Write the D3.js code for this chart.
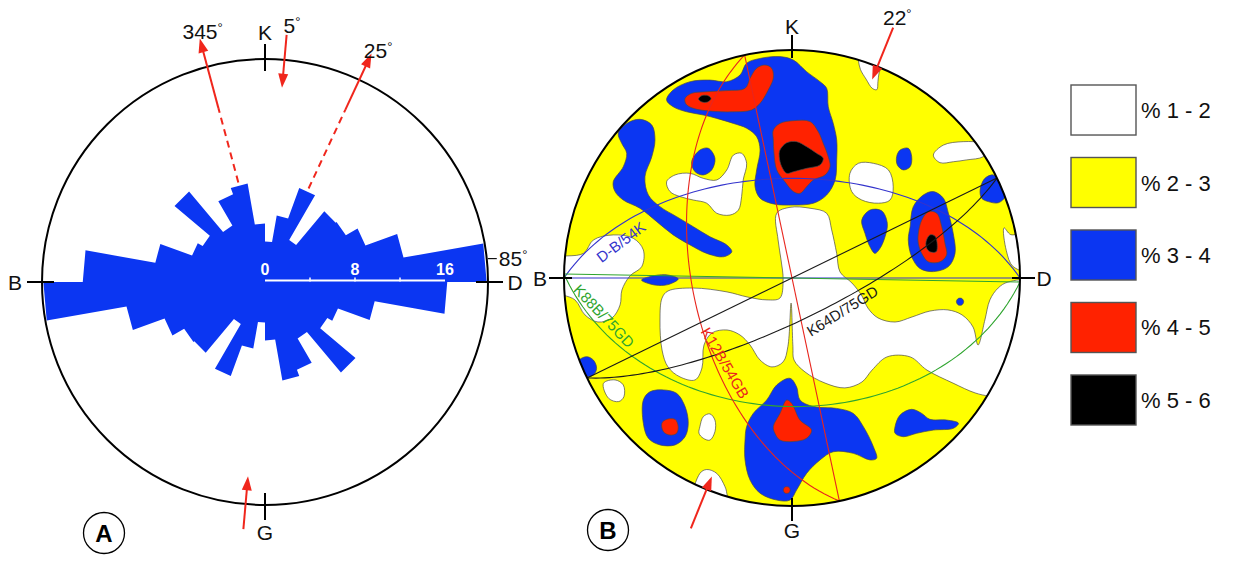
<!DOCTYPE html>
<html>
<head>
<meta charset="utf-8">
<script src="https://cdn.jsdelivr.net/npm/d3@7"></script>
<style>
  body { margin: 0; background: #fff; }
  svg { display: block; }
  text { font-family: "Liberation Sans", Arial, Helvetica, sans-serif; }
</style>
</head>
<body>
<svg id="fig" width="1238" height="561"></svg>
<script>
// ---------- Rose diagram (A): joint strike frequencies, 10° bins, bidirectional ----------
const roseBinStart = [0, 10, 20, 30, 40, 50, 60, 70, 80, 90, 100, 110, 120, 130, 140, 150, 160, 170];
const roseCounts   = [3.6, 6.0, 8.9, 4.3, 8.2, 8.3, 9.5, 12.5, 19.7, 16.2, 9.9, 6.9, 6.4, 10.5, 5.8, 8.3, 8.9, 5.2];
const roseScaleTicks  = [4, 8, 12];
const roseScaleLabels = [0, 8, 16];
const roseOutwardAz = [345, 25];     // principal directions drawn from petal tips
const roseInwardAz  = [5, 185];      // compression arrows
const roseAngleLabels = [345, 5, 25];
const roseMaxLabel = 85;
const compassNames = ["K", "D", "G", "B"];
const compassAz    = [0, 90, 180, 270];

// ---------- Stereonet (B): pole density contours, Schmidt net, radius = 1 ----------
const netArrowAz = [22, 202];
const netAngleLabel = 22;

const densityClasses = ["% 1 - 2", "% 2 - 3", "% 3 - 4", "% 4 - 5", "% 5 - 6"];

// 1-2 % zones
const zones12 = [
  [[0.28,1.03],[0.291,0.955],[0.30,0.915],[0.325,0.872],[0.352,0.832],[0.372,0.826],[0.377,0.862],[0.382,0.90],[0.395,0.935],[0.41,1.0]],
  [[-0.55,0.422],[-0.513,0.452],[-0.447,0.459],[-0.389,0.437],[-0.33,0.43],[-0.286,0.474],[-0.257,0.539],[-0.221,0.547],[-0.199,0.503],[-0.214,0.43],[-0.221,0.357],[-0.235,0.298],[-0.272,0.276],[-0.33,0.284],[-0.374,0.328],[-0.433,0.342],[-0.491,0.357],[-0.535,0.379]],
  [[0.254,0.459],[0.291,0.503],[0.357,0.503],[0.423,0.474],[0.444,0.4],[0.43,0.342],[0.379,0.328],[0.306,0.342],[0.262,0.379]],
  [[0.62,0.539],[0.664,0.583],[0.751,0.598],[0.839,0.591],[0.868,0.569],[0.839,0.532],[0.766,0.518],[0.708,0.51],[0.649,0.506]],
  [[0.93,0.22],[0.96,0.19],[1.05,0.2],[1.05,0.03],[0.97,0.05],[0.94,0.12]],
  [[-0.915,0.108],[-0.871,0.167],[-0.784,0.189],[-0.696,0.174],[-0.652,0.123],[-0.659,0.05],[-0.711,0.009],[-0.746,-0.053],[-0.754,-0.118],[-0.789,-0.175],[-0.851,-0.193],[-0.908,-0.162],[-0.952,-0.096],[-1.05,-0.05],[-1.05,0.08]],
  [[-0.067,0.284],[-0.009,0.31],[0.079,0.306],[0.152,0.284],[0.174,0.211],[0.196,0.108],[0.211,0.026],[0.263,-0.022],[0.307,-0.079],[0.333,-0.132],[0.377,-0.175],[0.452,-0.193],[0.526,-0.171],[0.605,-0.145],[0.684,-0.14],[0.746,-0.162],[0.794,-0.215],[0.816,-0.294],[0.846,-0.184],[0.868,-0.096],[0.904,-0.044],[0.947,-0.018],[1.05,-0.02],[1.05,-0.52],[0.868,-0.518],[0.803,-0.504],[0.706,-0.461],[0.592,-0.404],[0.518,-0.346],[0.417,-0.346],[0.351,-0.404],[0.307,-0.456],[0.232,-0.482],[0.145,-0.461],[0.057,-0.412],[0.009,-0.36],[0.004,-0.3],[-0.004,-0.11],[-0.018,-0.3],[-0.039,-0.368],[-0.088,-0.39],[-0.14,-0.36],[-0.184,-0.294],[-0.228,-0.25],[-0.285,-0.228],[-0.351,-0.241],[-0.386,-0.294],[-0.395,-0.395],[-0.425,-0.447],[-0.491,-0.434],[-0.544,-0.39],[-0.57,-0.316],[-0.579,-0.184],[-0.57,-0.088],[-0.544,-0.057],[-0.434,-0.044],[-0.285,-0.061],[-0.197,-0.083],[-0.11,-0.096],[-0.053,-0.088],[-0.039,-0.009],[-0.048,0.079],[-0.061,0.167]],
  [[-0.404,-0.652],[-0.389,-0.608],[-0.36,-0.596],[-0.338,-0.623],[-0.338,-0.674],[-0.36,-0.711],[-0.389,-0.703],[-0.408,-0.681]],
  [[-0.827,-0.462],[-0.776,-0.447],[-0.74,-0.469],[-0.737,-0.52],[-0.76,-0.542],[-0.804,-0.528]],
  [[-0.43,-0.98],[-0.404,-0.857],[-0.374,-0.84],[-0.33,-0.857],[-0.294,-0.915],[-0.286,-0.944],[-0.28,-1.03]]
];
// 3-4 % zones
const zones34 = [
  [[-0.55,0.781],[-0.521,0.825],[-0.447,0.861],[-0.36,0.868],[-0.286,0.861],[-0.228,0.89],[-0.199,0.942],[-0.14,0.963],[-0.053,0.971],[0.006,0.956],[0.064,0.905],[0.123,0.861],[0.152,0.832],[0.159,0.751],[0.181,0.678],[0.196,0.605],[0.196,0.518],[0.189,0.43],[0.152,0.364],[0.094,0.328],[0.006,0.32],[-0.082,0.325],[-0.14,0.35],[-0.162,0.4],[-0.155,0.474],[-0.14,0.561],[-0.155,0.62],[-0.199,0.657],[-0.257,0.678],[-0.33,0.7],[-0.389,0.715],[-0.462,0.729],[-0.521,0.751]],
  [[-0.762,0.635],[-0.725,0.678],[-0.667,0.696],[-0.615,0.671],[-0.601,0.605],[-0.615,0.532],[-0.645,0.444],[-0.63,0.364],[-0.579,0.313],[-0.506,0.269],[-0.433,0.225],[-0.36,0.181],[-0.286,0.145],[-0.264,0.115],[-0.301,0.093],[-0.374,0.108],[-0.447,0.145],[-0.521,0.189],[-0.593,0.247],[-0.667,0.306],[-0.74,0.342],[-0.776,0.379],[-0.784,0.422],[-0.74,0.488],[-0.725,0.547],[-0.747,0.591]],
  [[-0.44,0.51],[-0.404,0.561],[-0.367,0.569],[-0.338,0.525],[-0.352,0.474],[-0.389,0.452],[-0.425,0.466]],
  [[0.459,0.532],[0.474,0.561],[0.51,0.569],[0.525,0.532],[0.518,0.488],[0.488,0.474],[0.462,0.496]],
  [[0.518,0.225],[0.532,0.313],[0.576,0.364],[0.62,0.379],[0.664,0.35],[0.686,0.284],[0.707,0.196],[0.715,0.108],[0.686,0.05],[0.62,0.028],[0.561,0.042],[0.525,0.093],[0.51,0.167]],
  [[0.306,0.254],[0.342,0.298],[0.393,0.295],[0.418,0.24],[0.408,0.181],[0.386,0.13],[0.364,0.108],[0.342,0.137],[0.32,0.196]],
  [[0.825,0.386],[0.846,0.437],[0.883,0.452],[0.912,0.422],[0.934,0.357],[0.905,0.33],[0.861,0.335],[0.832,0.35]],
  [[-0.66,-0.009],[-0.601,0.011],[-0.544,0.013],[-0.499,-0.004],[-0.544,-0.029],[-0.601,-0.031]],
  [[-0.652,-0.535],[-0.623,-0.499],[-0.564,-0.491],[-0.506,-0.506],[-0.469,-0.564],[-0.455,-0.637],[-0.469,-0.696],[-0.513,-0.732],[-0.579,-0.732],[-0.63,-0.703],[-0.652,-0.637]],
  [[-0.937,-0.36],[-0.9,-0.345],[-0.871,-0.36],[-0.857,-0.396],[-0.871,-0.425],[-0.9,-0.433],[-0.93,-0.418],[-0.97,-0.39]],
  [[-0.199,-0.652],[-0.17,-0.594],[-0.111,-0.535],[-0.067,-0.469],[-0.009,-0.44],[0.02,-0.477],[0.035,-0.535],[0.094,-0.564],[0.196,-0.572],[0.269,-0.594],[0.313,-0.652],[0.357,-0.74],[0.371,-0.791],[0.342,-0.798],[0.269,-0.769],[0.181,-0.762],[0.123,-0.798],[0.064,-0.857],[0.02,-0.93],[-0.009,-0.974],[-0.067,-0.974],[-0.14,-0.944],[-0.184,-0.886],[-0.206,-0.798],[-0.206,-0.711]],
  [[0.452,-0.652],[0.474,-0.601],[0.525,-0.576],[0.569,-0.594],[0.605,-0.62],[0.678,-0.623],[0.73,-0.637],[0.708,-0.659],[0.62,-0.667],[0.547,-0.681],[0.488,-0.696],[0.452,-0.681]],
  [[0.753,-0.104],[0.745,-0.09],[0.729,-0.09],[0.721,-0.104],[0.729,-0.118],[0.745,-0.118]]
];
// 4-5 % zones
const zones45 = [
  [[-0.469,0.788],[-0.44,0.81],[-0.374,0.817],[-0.286,0.822],[-0.206,0.832],[-0.184,0.876],[-0.155,0.92],[-0.118,0.934],[-0.089,0.92],[-0.082,0.876],[-0.104,0.825],[-0.14,0.766],[-0.177,0.737],[-0.257,0.729],[-0.36,0.732],[-0.433,0.744],[-0.465,0.763]],
  [[-0.082,0.649],[-0.053,0.678],[0.006,0.69],[0.079,0.686],[0.115,0.642],[0.137,0.591],[0.159,0.532],[0.167,0.488],[0.145,0.452],[0.094,0.43],[0.064,0.4],[0.035,0.371],[0.006,0.379],[-0.031,0.422],[-0.067,0.474],[-0.079,0.547],[-0.082,0.605]],
  [[0.554,0.196],[0.569,0.254],[0.598,0.291],[0.635,0.284],[0.657,0.225],[0.671,0.152],[0.678,0.101],[0.649,0.071],[0.598,0.071],[0.569,0.108],[0.554,0.152]],
  [[-0.571,-0.637],[-0.55,-0.62],[-0.513,-0.62],[-0.499,-0.652],[-0.506,-0.681],[-0.535,-0.689],[-0.564,-0.674]],
  [[-0.082,-0.652],[-0.053,-0.594],[-0.023,-0.535],[-0.001,-0.55],[0.035,-0.623],[0.086,-0.667],[0.064,-0.703],[0.006,-0.717],[-0.053,-0.711],[-0.075,-0.681]],
  [[-0.008,-0.93],[-0.015,-0.917],[-0.031,-0.917],[-0.038,-0.93],[-0.031,-0.943],[-0.015,-0.943]]
];
// 5-6 % zones
const zones56 = [
  [[-0.41,0.785],[-0.395,0.80],[-0.37,0.80],[-0.355,0.787],[-0.37,0.772],[-0.395,0.772]],
  [[-0.053,0.561],[-0.023,0.593],[0.02,0.598],[0.064,0.576],[0.108,0.547],[0.137,0.525],[0.123,0.496],[0.064,0.481],[0.006,0.466],[-0.023,0.459],[-0.045,0.488],[-0.056,0.532]],
  [[0.588,0.159],[0.605,0.189],[0.627,0.184],[0.637,0.145],[0.632,0.115],[0.605,0.115],[0.591,0.13]]
];

// Planes: dip direction and dip of the plotted great circle
const planeNames  = ["D-B/54K", "K88B/75GD", "K12B/54GB", "K64D/75GD"];
const planeDipDir = [0, 181, 258, 154];
const planeDip    = [54, 43, 54, 75];

// ---------- styles / layout ----------
const BLUE = "#0b36f2", YELLOW = "#ffff00", RED = "#ff2200", BLACK = "#000000", ARROW = "#f0261c";
const classColors = ["#ffffff", YELLOW, BLUE, RED, BLACK];
const planeColors = ["#3434cc", "#2fa52f", "#e8261e", "#1a1a1a"];
const planeLabelLayout = [[-0.75, 0.158, -37], [-0.825, -0.167, 46.6], [-0.294, -0.373, 59.4], [0.221, -0.145, -32]];
const FONT = 21;
const rad = Math.PI / 180;

const svg = d3.select("#fig");
svg.append("rect").attr("width", 1238).attr("height", 561).attr("fill", "#fff");

function polar(c, az, r) { return [c.cx + r * Math.sin(az * rad), c.cy - r * Math.cos(az * rad)]; }

function arrow(g, p0, p1, color, head = 14, hw = 5) {
  const dx = p1[0] - p0[0], dy = p1[1] - p0[1], L = Math.hypot(dx, dy), ux = dx / L, uy = dy / L;
  const b = [p1[0] - ux * head, p1[1] - uy * head];
  g.append("line").attr("x1", p0[0]).attr("y1", p0[1]).attr("x2", b[0] + ux * 2).attr("y2", b[1] + uy * 2)
    .attr("stroke", color).attr("stroke-width", 2);
  g.append("path")
    .attr("d", `M${p1[0]},${p1[1]}L${b[0] - uy * hw},${b[1] + ux * hw}L${b[0] + uy * hw},${b[1] - ux * hw}Z`)
    .attr("fill", color);
}

function degText(g, x, y, value, anchor = "middle") {
  const t = g.append("text").attr("x", x).attr("y", y).attr("text-anchor", anchor)
    .attr("font-size", FONT).attr("fill", "#111");
  t.append("tspan").text(value);
  t.append("tspan").attr("font-size", 13).attr("dy", -7).text("°");
  return t;
}

function compass(g, c, tickIn, tickOut, labelR) {
  compassAz.forEach((az, i) => {
    const a = polar(c, az, tickIn), b = polar(c, az, tickOut);
    g.append("line").attr("x1", a[0]).attr("y1", a[1]).attr("x2", b[0]).attr("y2", b[1])
      .attr("stroke", "#000").attr("stroke-width", 2);
    const p = polar(c, az, labelR);
    g.append("text").attr("x", p[0]).attr("y", p[1] + 7.5).attr("text-anchor", "middle")
      .attr("font-size", FONT).attr("fill", "#111").text(compassNames[i]);
  });
}

function circledLetter(g, x, y, letter) {
  g.append("circle").attr("cx", x).attr("cy", y).attr("r", 20.5).attr("fill", "#fff")
    .attr("stroke", "#000").attr("stroke-width", 1.3);
  g.append("text").attr("x", x).attr("y", y + 8.5).attr("text-anchor", "middle")
    .attr("font-size", 24).attr("font-weight", "bold").attr("fill", "#000").text(letter);
}

// ================= A: rose diagram =================
const A = { cx: 265, cy: 282, R: 223 };
const gA = svg.append("g");
const rScale = d3.scaleLinear().domain([0, 16]).range([0, 180]);

// full 360° outline: each bin and its opposite carry the same count
const petals = [];
roseBinStart.forEach((a, i) => petals.push({ a0: a, v: roseCounts[i] }));
roseBinStart.forEach((a, i) => petals.push({ a0: a + 180, v: roseCounts[i] }));
const outline = petals.flatMap(d => [[d.a0, d.v], [d.a0 + 10, d.v]]);
const petalLine = d3.lineRadial().angle(d => d[0] * rad).radius(d => rScale(d[1])).curve(d3.curveLinearClosed);
gA.append("path").attr("transform", `translate(${A.cx},${A.cy})`)
  .attr("d", petalLine(outline)).attr("fill", BLUE);

gA.append("circle").attr("cx", A.cx).attr("cy", A.cy).attr("r", A.R)
  .attr("fill", "none").attr("stroke", "#000").attr("stroke-width", 2);

// scale bar along east axis
const barY = A.cy - 1.5;
gA.append("line").attr("x1", A.cx).attr("x2", A.cx + rScale(16)).attr("y1", barY).attr("y2", barY)
  .attr("stroke", "#fff").attr("stroke-width", 2);
roseScaleTicks.forEach(t => {
  gA.append("line").attr("x1", A.cx + rScale(t)).attr("x2", A.cx + rScale(t))
    .attr("y1", barY - 3).attr("y2", barY + 1).attr("stroke", "#fff").attr("stroke-width", 1.5);
});
roseScaleLabels.forEach(t => {
  gA.append("text").attr("x", A.cx + rScale(t)).attr("y", barY - 6).attr("text-anchor", "middle")
    .attr("font-size", 16).attr("font-weight", "bold").attr("fill", "#fff").text(t);
});

compass(gA, A, 211, 238, 250);

// principal directions: dashed from the petal tip, then an outward arrow
roseOutwardAz.forEach((az, i) => {
  const bin = Math.floor((az % 180) / 10);
  const r0 = rScale(roseCounts[bin]) + 3;
  const rMid = i === 0 ? 180 : 190;
  const p0 = polar(A, az, r0), p1 = polar(A, az, rMid);
  gA.append("line").attr("x1", p0[0]).attr("y1", p0[1]).attr("x2", p1[0]).attr("y2", p1[1])
    .attr("stroke", ARROW).attr("stroke-width", 2).attr("stroke-dasharray", "7,5");
  arrow(gA, p1, polar(A, az, 252), ARROW);
});
roseInwardAz.forEach(az => arrow(gA, polar(A, az, 248), polar(A, az, 195), ARROW));

roseAngleLabels.forEach(v => {
  const p = polar(A, v + 1, 258);
  degText(gA, p[0], p[1] + 7.5, v);
});
// label for the longest petal
{
  const p = polar(A, roseMaxLabel - 1, 224);
  gA.append("line").attr("x1", p[0]).attr("y1", p[1]).attr("x2", p[0] + 9).attr("y2", p[1])
    .attr("stroke", "#111").attr("stroke-width", 1.2);
  degText(gA, p[0] + 11, p[1] + 7.5, roseMaxLabel, "start");
}
circledLetter(gA, 104, 533, "A");

// ================= B: stereonet =================
const N = { cx: 792, cy: 278, R: 228 };
const gB = svg.append("g");
const nx = d3.scaleLinear().domain([-1, 1]).range([N.cx - N.R, N.cx + N.R]);
const ny = d3.scaleLinear().domain([-1, 1]).range([N.cy + N.R, N.cy - N.R]);
const blob = d3.line().x(d => nx(d[0])).y(d => ny(d[1])).curve(d3.curveCatmullRomClosed.alpha(0.5));
const path = d3.line().x(d => nx(d[0])).y(d => ny(d[1]));

svg.append("defs").append("clipPath").attr("id", "netClip")
  .append("circle").attr("cx", N.cx).attr("cy", N.cy).attr("r", N.R);

const gNet = gB.append("g").attr("clip-path", "url(#netClip)");
gNet.append("circle").attr("cx", N.cx).attr("cy", N.cy).attr("r", N.R).attr("fill", YELLOW);

[[zones12, classColors[0]], [zones34, classColors[2]], [zones45, classColors[3]], [zones56, classColors[4]]]
  .forEach(([zones, col]) => {
    gNet.append("g").selectAll("path").data(zones).join("path")
      .attr("d", blob).attr("fill", col).attr("stroke", "#4a4a4a").attr("stroke-width", 0.7);
  });

// great circles (lower hemisphere, equal-area) and strike lines
function greatCircle(dipDir, dip) {
  const D = dipDir * rad, d = dip * rad, s = D - Math.PI / 2;
  const sv = [Math.sin(s), Math.cos(s), 0];
  const dv = [Math.sin(D) * Math.cos(d), Math.cos(D) * Math.cos(d), Math.sin(d)];
  return d3.range(0, 181, 2).map(b => {
    const c = Math.cos(b * rad), si = Math.sin(b * rad);
    const e = c * sv[0] + si * dv[0], n = c * sv[1] + si * dv[1], z = c * sv[2] + si * dv[2];
    const pl = Math.asin(Math.max(-1, Math.min(1, z)));
    const tr = Math.atan2(e, n);
    const rr = Math.SQRT2 * Math.sin((Math.PI / 2 - pl) / 2);
    return [rr * Math.sin(tr), rr * Math.cos(tr)];
  });
}
planeNames.forEach((name, i) => {
  const s = (planeDipDir[i] - 90) * rad;
  gNet.append("path").attr("d", path(greatCircle(planeDipDir[i], planeDip[i])))
    .attr("fill", "none").attr("stroke", planeColors[i]).attr("stroke-width", 1.1);
  gNet.append("path").attr("d", path([[Math.sin(s), Math.cos(s)], [-Math.sin(s), -Math.cos(s)]]))
    .attr("fill", "none").attr("stroke", planeColors[i]).attr("stroke-width", 1.1);
  const [lx, ly, rot] = planeLabelLayout[i];
  gB.append("text").attr("transform", `translate(${nx(lx)},${ny(ly)}) rotate(${rot})`)
    .attr("text-anchor", "middle").attr("dy", "0.35em").attr("font-size", 15)
    .attr("fill", planeColors[i]).text(name);
});

gB.append("circle").attr("cx", N.cx).attr("cy", N.cy).attr("r", N.R)
  .attr("fill", "none").attr("stroke", "#000").attr("stroke-width", 2);

compass(gB, N, 220, 243, 252);
netArrowAz.forEach(az => arrow(gB, polar(N, az, 270), polar(N, az, 214), ARROW));
{
  const p = polar(N, netAngleLabel, 281);
  degText(gB, p[0], p[1] + 7.5, netAngleLabel);
}
circledLetter(gB, 608, 530, "B");

// ---------- legend ----------
const gL = svg.append("g");
const ly = d3.scaleBand().domain(densityClasses).range([85, 425]).paddingInner(0.31).paddingOuter(0);
densityClasses.forEach((lab, i) => {
  gL.append("rect").attr("x", 1071).attr("y", ly(lab)).attr("width", 65).attr("height", ly.bandwidth())
    .attr("fill", classColors[i]).attr("stroke", "#555").attr("stroke-width", 1.4);
  gL.append("text").attr("x", 1141).attr("y", ly(lab) + ly.bandwidth() / 2 + 8)
    .attr("font-size", 22).attr("fill", "#111").text(lab);
});
</script>
</body>
</html>
